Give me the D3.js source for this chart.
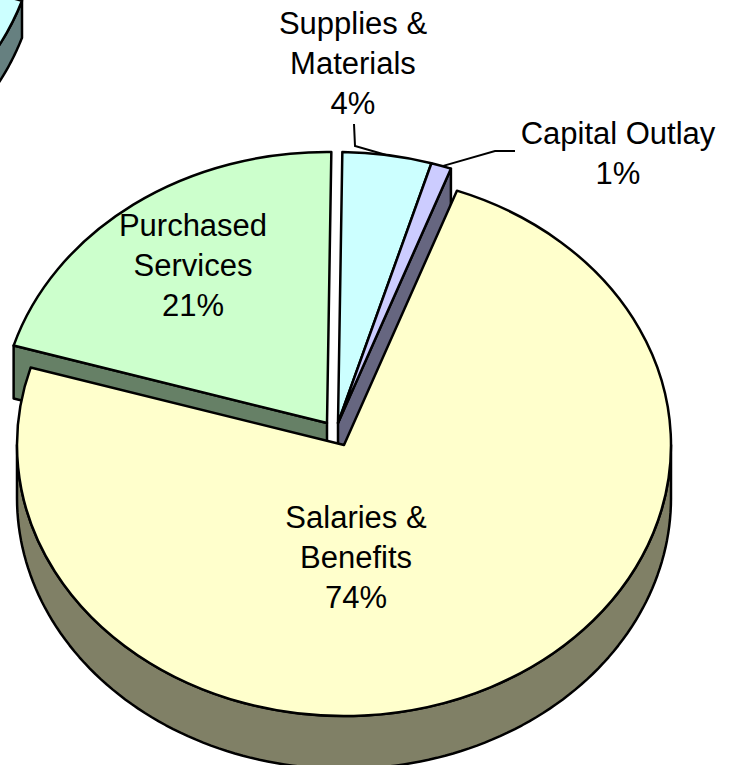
<!DOCTYPE html>
<html>
<head>
<meta charset="utf-8">
<style>html,body{margin:0;padding:0;background:#fff}svg{display:block}</style>
<script src="https://cdn.jsdelivr.net/npm/d3@7/dist/d3.min.js"></script>
</head>
<body>
<script>
const categories = ["Salaries & Benefits", "Purchased Services", "Supplies & Materials", "Capital Outlay"];
const shares = [74, 20.6, 4.4, 1.0];
const labelLines = [["Salaries &", "Benefits", "74%"], ["Purchased", "Services", "21%"], ["Supplies &", "Materials", "4%"], ["Capital Outlay", "1%"]];
const faceColors = ["#ffffcc", "#ccffcc", "#ccffff", "#ccccff"];
const wallColors = ["#808066", "#668066", "#668080", "#666680"];

const W = 729, H = 765, rx = 327, ry = 271, depth = 53;
const rad = d => d * Math.PI / 180;
const svg = d3.select("body").append("svg").attr("width", W).attr("height", H)
  .attr("viewBox", `0 0 ${W} ${H}`);

const pie = d3.pie().value(d => d).sort(null).startAngle(rad(20.2)).endAngle(rad(380.2));
const arcs = pie(shares);
// each slice is pulled off the common pie centre
const centers = [[344, 445], [327, 423], [338, 423], [338, 423]];
const labelAt = [[356, 528], [193, 236], [353, 34], [618, 144]];
const line = d3.line();
const arcGen = d3.arc().innerRadius(0).outerRadius(rx);

function rim(c, a, dy = 0) { return [c[0] + rx * Math.sin(a), c[1] - ry * Math.cos(a) + dy]; }
function drawFace(g, c, a0, a1, fill) {
  g.append("path")
    .attr("transform", `translate(${c[0]},${c[1]}) scale(1,${ry / rx})`)
    .attr("d", arcGen({ startAngle: a0, endAngle: a1 }))
    .attr("fill", fill).attr("stroke", "#000").attr("stroke-width", 2.5)
    .attr("stroke-linejoin", "round").attr("vector-effect", "non-scaling-stroke");
}
function drawRimWall(g, c, a0, a1, fill, d = depth) {
  const n = 120, as = d3.range(n + 1).map(i => a0 + (a1 - a0) * i / n);
  const pts = as.map(a => rim(c, a)).concat(as.slice().reverse().map(a => rim(c, a, d)));
  g.append("path").attr("d", line(pts) + "Z").attr("fill", fill)
    .attr("stroke", "#000").attr("stroke-width", 2.5).attr("stroke-linejoin", "round");
}
function drawRadialWall(g, c, a, fill) {
  const pts = [c, rim(c, a), rim(c, a, depth), [c[0], c[1] + depth]];
  g.append("path").attr("d", line(pts) + "Z").attr("fill", fill)
    .attr("stroke", "#000").attr("stroke-width", 2.5).attr("stroke-linejoin", "round");
}

const g = svg.append("g");

// fragment of a neighbouring pie, cut off by the top-left corner of the picture
const strayCenter = [-289, -83], strayFrom = rad(108), strayTo = rad(165), strayDepth = 37;
drawRimWall(g, strayCenter, strayFrom, strayTo, wallColors[2], strayDepth);
drawFace(g, strayCenter, strayFrom, strayTo, faceColors[2]);

// walls that lie behind the big slice
drawRadialWall(g, centers[1], arcs[1].startAngle, wallColors[1]);
drawRadialWall(g, centers[3], arcs[3].endAngle, wallColors[3]);

// back faces
[2, 3, 1].forEach(i => drawFace(g, centers[i], arcs[i].startAngle, arcs[i].endAngle, faceColors[i]));

// big slice
drawRimWall(g, centers[0], rad(90), rad(270), wallColors[0]);
drawFace(g, centers[0], arcs[0].startAngle, arcs[0].endAngle, faceColors[0]);

// leader lines
const supMid = rim(centers[2], rad(8.5));
svg.append("path").attr("fill", "none").attr("stroke", "#000").attr("stroke-width", 2)
  .attr("d", line([[354, 124], [355, 146], supMid]));
const capMid = rim(centers[3], (arcs[3].startAngle + arcs[3].endAngle) / 2);
svg.append("path").attr("fill", "none").attr("stroke", "#000").attr("stroke-width", 2)
  .attr("d", line([[capMid[0] + 2, capMid[1]], [495, 151], [515, 151]]));

// labels
labelLines.forEach((lines, i) => {
  const t = svg.append("text").attr("text-anchor", "middle")
    .attr("font-family", "'Liberation Sans', Arial, sans-serif").attr("font-size", 31).attr("fill", "#000");
  lines.forEach((s, k) => t.append("tspan").attr("x", labelAt[i][0]).attr("y", labelAt[i][1] + k * 40).text(s));
});
</script>
</body>
</html>
